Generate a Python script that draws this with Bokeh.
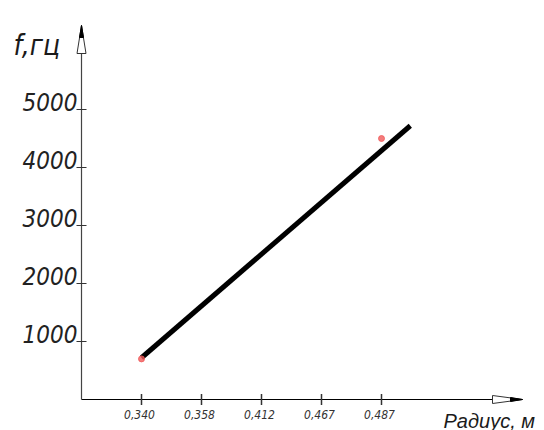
from bokeh.plotting import figure
from bokeh.models import Range1d
from bokeh.core.properties import value
from bokeh.embed import file_html
from bokeh.resources import INLINE

# ---- data ----
radius_labels = ["0,340", "0,358", "0,412", "0,467", "0,487"]
radius_pos = [1, 2, 3, 4, 5]
freq_ticks = [1000, 2000, 3000, 4000, 5000]
freq_tick_labels = ["1000", "2000", "3000", "4000", "5000"]
measured_pos = [1, 5]
measured_f = [700, 4500]
fit_pos = [1, 5.48]
fit_f = [720, 4720]

# ---- layout (frame = whole canvas) ----
W, H = 544, 430
OX, OY = 81, 399          # canvas pixel position of the origin
PX_X = 60.0               # px per category step
PX_Y = 0.058              # px per Hz
x0, x1 = -OX / PX_X, (W - OX) / PX_X
y0, y1 = -(H - OY) / PX_Y, OY / PX_Y
x_tip = (522 - OX) / PX_X  # x axis arrow tip
y_tip = (OY - 25) / PX_Y   # y axis arrow tip

p = figure(width=W, height=H, output_backend="svg", toolbar_location=None,
           x_range=Range1d(x0, x1), y_range=Range1d(y0, y1),
           x_axis_type=None, y_axis_type=None,
           min_border=0)
p.outline_line_color = None
p.grid.visible = False
p.background_fill_color = "white"
p.border_fill_color = "white"

FONT = value("DejaVu Sans Condensed")

# axis lines
p.line([0, x_tip], [0, 0], line_color="black", line_width=1.2)
p.line([0, 0], [0, y_tip], line_color="#444444", line_width=1.2)

# ticks
tx = 5 / PX_X
ty = 5.5 / PX_Y
p.segment(x0=radius_pos, y0=[-ty] * 5, x1=radius_pos, y1=[ty] * 5,
          line_color="#333333", line_width=1.5)
p.segment(x0=[-tx] * 5, y0=freq_ticks, x1=[tx] * 5, y1=freq_ticks,
          line_color="#333333", line_width=1.2)

# tick labels
p.text(x=radius_pos, y=[0] * 5, text=radius_labels, y_offset=10, x_offset=-2,
       text_align="center", text_baseline="top", text_font=FONT,
       text_font_style="italic", text_font_size="12px", text_color="#333333")
p.text(x=[0] * 5, y=freq_ticks, text=freq_tick_labels, x_offset=-4, y_offset=1,
       text_align="right", text_baseline="bottom", text_font=FONT,
       text_font_style="italic", text_font_size="24px", text_color="#222222")

# arrowheads
L, w = 28 / PX_Y, 4.5 / PX_X
p.patch([0, -w, w], [y_tip, y_tip - L, y_tip - L], fill_color="white", line_color="#333333", line_width=1)
L2, w2 = 12 / PX_Y, 2 / PX_X
p.patch([0, -w2, w2], [y_tip, y_tip - L2, y_tip - L2], fill_color="black", line_color="black")
L, w = 30 / PX_X, 4 / PX_Y
p.patch([x_tip, x_tip - L, x_tip - L], [0, w, -w], fill_color="white", line_color="#333333", line_width=1)
L2, w2 = 12 / PX_X, 2 / PX_Y
p.patch([x_tip, x_tip - L2, x_tip - L2], [0, w2, -w2], fill_color="black", line_color="black")

# fitted line and measured points
p.line(fit_pos, fit_f, line_color="black", line_width=5)
p.scatter(measured_pos, measured_f, size=6, color="#f05a5a", alpha=0.8)

# axis titles
p.text(x=[(13 - OX) / PX_X], y=[(OY - 45) / PX_Y], text=["f,гц"],
       text_font=FONT, text_font_style="italic", text_font_size="28px",
       text_color="#1a1a1a", text_baseline="alphabetic", text_align="left")
p.text(x=[(443 - OX) / PX_X], y=[-(420 - OY) / PX_Y], text=["Радиус, м"],
       text_font=value("Liberation Sans"), text_font_style="italic", text_font_size="20px",
       text_color="#1a1a1a", text_baseline="alphabetic", text_align="left")

open("out.html", "w").write(file_html(p, INLINE))
